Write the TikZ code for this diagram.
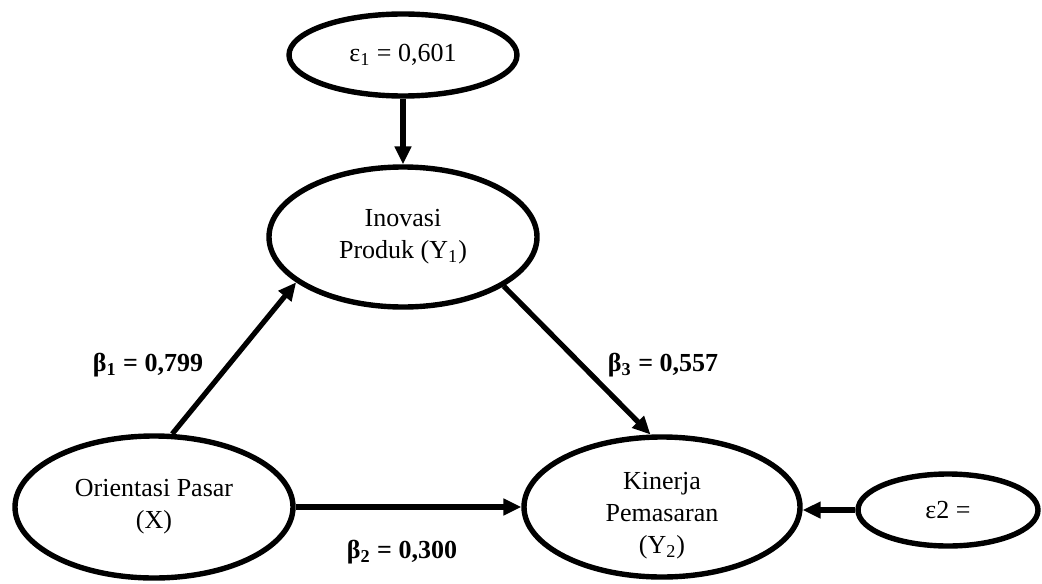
\documentclass[tikz,border=0pt]{standalone}
\usepackage{fontspec}
\setmainfont{Liberation Serif}
\usetikzlibrary{shapes.geometric,arrows.meta}
\tikzset{
  var/.style={ellipse,draw,line width=2.7pt,inner sep=0pt,align=center,
    font=\fontsize{13}{16}\selectfont},
  vartext/.style={inner sep=0pt,align=center,font=\fontsize{13}{16}\selectfont},
  path arrow/.style={line width=2.6pt,-{Triangle[length=9pt,width=8pt]}},
  coef/.style={font=\fontsize{13}{16}\selectfont\bfseries,inner sep=0pt}
}
\begin{document}
\begin{tikzpicture}[x=0.5pt,y=-0.5pt]
\useasboundingbox (0,0) rectangle (1042,583);
\node[var,minimum width=114pt,minimum height=41pt] (e1) at (403,55) {ε\textsubscript{1} = 0,601};
\node[var,minimum width=134pt,minimum height=70pt] (inov) at (403,237) {Inovasi\\Produk (Y\textsubscript{1})};
\node[var,minimum width=139pt,minimum height=71pt] (ori) at (154,507) {Orientasi Pasar\\(X)};
\node[var,minimum width=138pt,minimum height=70pt] (kin) at (662,507) {};
\node[vartext] (kintext) at ([yshift=-4.5pt]kin.center) {Kinerja\\Pemasaran\\(Y\textsubscript{2})};
\node[var,minimum width=90pt,minimum height=36pt] (e2) at (948,510) {ε2 =};
\draw[path arrow] (e1.south) -- (inov.north);
\draw[path arrow] (ori.76) -- (inov.203);
\draw[path arrow] (inov.334) -- (kin.99);
\draw[path arrow] (ori.east) -- (kin.west);
\draw[path arrow] (e2.west) -- (e2.west -| kin.east);
\node[coef] (b1) at (148,365) {β\textsubscript{1} = 0,799};
\node[coef] (b2) at (402,552) {β\textsubscript{2} = 0,300};
\node[coef] (b3) at (663,365) {β\textsubscript{3} = 0,557};
\end{tikzpicture}
\end{document}
